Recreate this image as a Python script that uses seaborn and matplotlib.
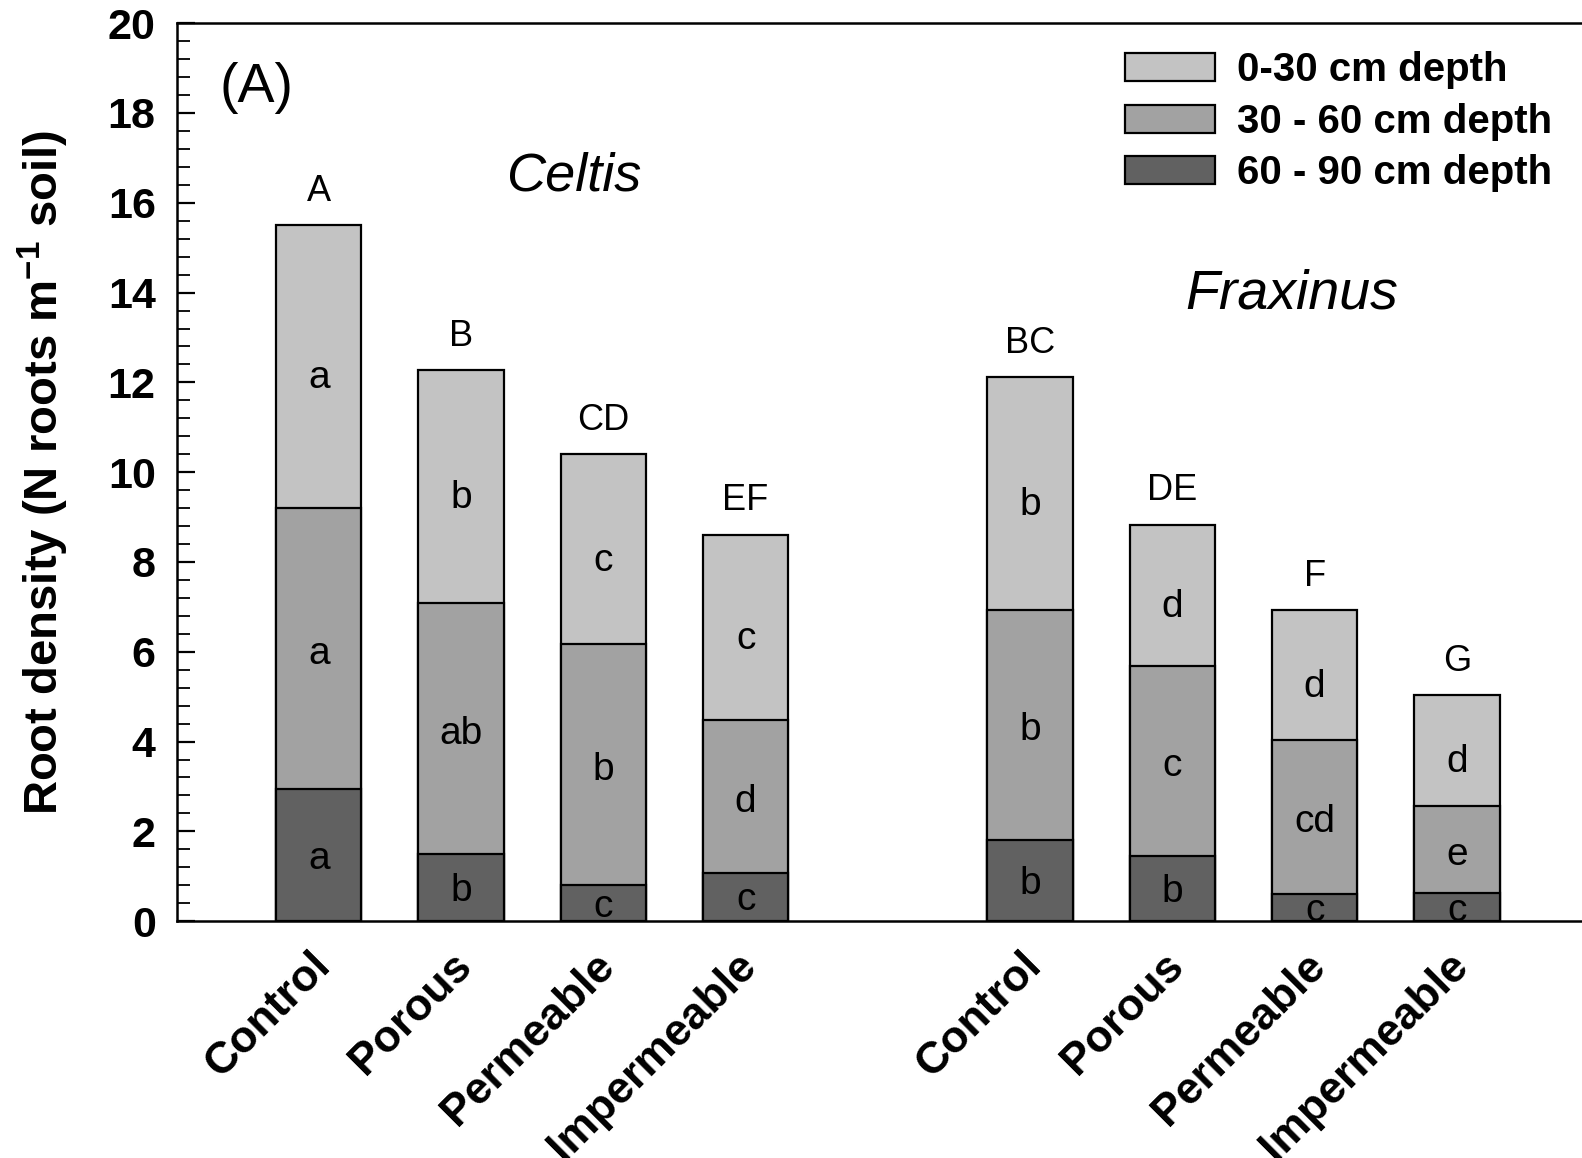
import matplotlib
matplotlib.use("Agg")
import matplotlib.pyplot as plt
import matplotlib.transforms as mtransforms
from matplotlib.patches import Patch
from matplotlib.ticker import MultipleLocator
import numpy as np
import pandas as pd
import seaborn as sns

# ---------------- data ----------------
species = ["Celtis", "Fraxinus"]
treatments = ["Control", "Porous", "Permeable", "Impermeable"]
# root density per depth layer (N roots m-1 soil)
depth_0_30 = [6.30, 5.19, 4.22, 4.13, 5.17, 3.14, 2.88, 2.47]
depth_30_60 = [6.25, 5.58, 5.37, 3.39, 5.14, 4.25, 3.43, 1.93]
depth_60_90 = [2.95, 1.50, 0.81, 1.08, 1.80, 1.44, 0.61, 0.63]
# significance letters
total_letters = ["A", "B", "CD", "EF", "BC", "DE", "F", "G"]
letters_0_30 = ["a", "b", "c", "c", "b", "d", "d", "d"]
letters_30_60 = ["a", "ab", "b", "d", "b", "c", "cd", "e"]
letters_60_90 = ["a", "b", "c", "c", "b", "b", "c", "c"]
legend_labels = ["0-30 cm depth", "30 - 60 cm depth", "60 - 90 cm depth"]
colors = ["#c3c3c3", "#a2a2a2", "#616161"]

# ---------------- build table ----------------
n_t = len(treatments)
pos = [g * (n_t + 1) + t for g in range(len(species)) for t in range(n_t)]
d3 = np.array(depth_60_90)
d2 = np.array(depth_30_60)
d1 = np.array(depth_0_30)
df = pd.DataFrame({
    "pos": pos,
    "treatment": treatments * len(species),
    "species": [s for s in species for _ in treatments],
    "cum3": d3,
    "cum2": d3 + d2,
    "cum1": d3 + d2 + d1,
})

sns.set_style("white")
plt.rcParams["font.family"] = ["Liberation Sans", "DejaVu Sans"]
plt.rcParams["mathtext.fontset"] = "custom"
plt.rcParams["mathtext.rm"] = "Liberation Sans"
plt.rcParams["mathtext.bf"] = "Liberation Sans:bold"
for k in ["text.color", "axes.labelcolor", "xtick.color", "ytick.color", "axes.edgecolor"]:
    plt.rcParams[k] = "black"

W, H = 1582, 1158
s = W / 1568.0
left_px, bottom_px, top_px = 175 * s, 913 * s, 23 * s
unit_px = 141 * s
fig = plt.figure(figsize=(W / 100, H / 100), dpi=100)
ax = fig.add_axes([left_px / W, 1 - bottom_px / H, 10 * unit_px / W,
                   (bottom_px - top_px) / H])

for col, c in zip(["cum1", "cum2", "cum3"], colors):
    sns.barplot(data=df, x="pos", y=col, native_scale=True, width=0.6,
                color=c, edgecolor="black", linewidth=1.6, errorbar=None,
                saturation=1, ax=ax, zorder=2)

# letters inside segments
bounds = [(df["cum2"], df["cum1"], letters_0_30, 0.26),
          (df["cum3"], df["cum2"], letters_30_60, 0.12),
          (np.zeros(len(df)), df["cum3"], letters_60_90, 0.08)]
for lo, hi, labs, off in bounds:
    for x, a, b, t in zip(df["pos"], lo, hi, labs):
        ax.text(x, (a + b) / 2 - off, t, ha="center", va="center", fontsize=28,
                color="black", zorder=5)

# letters above bars
for x, tot, t in zip(df["pos"], df["cum1"], total_letters):
    ax.text(x, tot + 0.55, t, ha="center", va="baseline", fontsize=26, zorder=5)

# species names
ax.text(1.79, 16.27, "Celtis", style="italic", fontsize=39, ha="center", va="baseline")
ax.text(6.84, 13.64, "Fraxinus", style="italic", fontsize=40, ha="center", va="baseline")
ax.text(-0.70, 18.25, "(A)", fontsize=40, ha="left", va="baseline")

ax.set_xlim(-1, 9)
ax.set_ylim(0, 20)
ax.yaxis.set_major_locator(MultipleLocator(2))
ax.yaxis.set_minor_locator(MultipleLocator(0.4))
ax.tick_params(axis="y", which="major", direction="in", length=13, width=1.6,
               labelsize=31, pad=15, left=True)
ax.tick_params(axis="y", which="minor", direction="in", length=9, width=1.3, left=True)
for lab in ax.get_yticklabels():
    lab.set_fontweight("bold")

ax.set_xticks(pos)
ax.set_xticklabels(treatments * len(species), rotation=45, ha="right", va="top",
                   rotation_mode="anchor", fontsize=32, fontweight="bold")
ax.tick_params(axis="x", length=0, pad=17)
offset = mtransforms.ScaledTranslation(-10 / 100, 0, fig.dpi_scale_trans)
for lab in ax.get_xticklabels():
    lab.set_transform(lab.get_transform() + offset)

ax.set_xlabel("")
ax.set_ylabel(r"Root density (N roots m$^{\mathregular{-1}}$ soil)", fontsize=34,
              fontweight="bold")
ax.yaxis.set_label_coords(-0.0745, 0.5)

for side in ["left", "bottom", "top", "right"]:
    ax.spines[side].set_visible(True)
    ax.spines[side].set_color("black")
    ax.spines[side].set_linewidth(1.8)

handles = [Patch(facecolor=c, edgecolor="black", linewidth=1.6) for c in colors]
leg = ax.legend(handles, legend_labels, loc="upper left",
                bbox_to_anchor=(0.6665, 0.969), frameon=False, borderpad=0,
                borderaxespad=0, handlelength=2.23, handleheight=0.695,
                handletextpad=0.57, labelspacing=0.34,
                prop={"size": 29, "weight": "bold"})

fig.savefig("out.png", dpi=100)
